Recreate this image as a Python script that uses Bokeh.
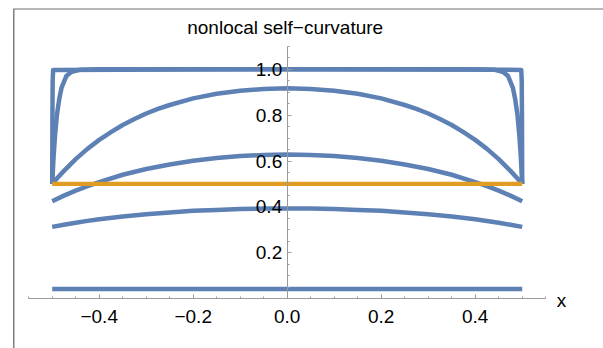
from bokeh.plotting import figure
from bokeh.models import Range1d, FixedTicker, Span, Label, CustomJSTickFormatter
from bokeh.embed import file_html
from bokeh.resources import INLINE

# ---- data ----
title_text = "nonlocal self\u2212curvature"
x_label = "x"

# box-like curve (very short boundary layer)
x1 = [-0.5, -0.4995, -0.499, -0.498, 0.0, 0.498, 0.499, 0.4995, 0.5]
y1 = [0.5, 0.80, 0.95, 0.997, 1.0, 0.997, 0.95, 0.80, 0.5]

# sharp boundary-layer curve
x2 = [-0.5, -0.497, -0.494, -0.49, -0.485, -0.48, -0.47, -0.46, -0.44, -0.4, 0.0,
      0.4, 0.44, 0.46, 0.47, 0.48, 0.485, 0.49, 0.494, 0.497, 0.5]
y2 = [0.5, 0.62, 0.71, 0.80, 0.87, 0.92, 0.97, 0.987, 0.998, 1.0, 1.0,
      1.0, 0.998, 0.987, 0.97, 0.92, 0.87, 0.80, 0.71, 0.62, 0.5]

# broad arch 0.5 -> 0.917
x3 = [-0.5, -0.49, -0.475, -0.45, -0.425, -0.4, -0.375, -0.35, -0.325, -0.3, -0.275, -0.25,
      -0.2, -0.15, -0.1, -0.05, 0.0,
      0.05, 0.1, 0.15, 0.2, 0.25, 0.275, 0.3, 0.325, 0.35, 0.375, 0.4, 0.425, 0.45, 0.475, 0.49, 0.5]
y3 = [0.50, 0.524, 0.557, 0.608, 0.653, 0.692, 0.726, 0.757, 0.783, 0.807, 0.827, 0.844,
      0.873, 0.893, 0.906, 0.914, 0.917,
      0.914, 0.906, 0.893, 0.873, 0.844, 0.827, 0.807, 0.783, 0.757, 0.726, 0.692, 0.653, 0.608, 0.557, 0.524, 0.50]

xa = [-0.5, -0.475, -0.45, -0.425, -0.4, -0.35, -0.3, -0.25, -0.2, -0.15, -0.1, -0.05, 0.0,
      0.05, 0.1, 0.15, 0.2, 0.25, 0.3, 0.35, 0.4, 0.425, 0.45, 0.475, 0.5]
y4 = [0.425, 0.449, 0.471, 0.490, 0.508, 0.540, 0.565, 0.585, 0.601, 0.613, 0.622, 0.626, 0.628,
      0.626, 0.622, 0.613, 0.601, 0.585, 0.565, 0.540, 0.508, 0.490, 0.471, 0.449, 0.425]
y5 = [0.313, 0.322, 0.331, 0.339, 0.346, 0.358, 0.368, 0.376, 0.383, 0.387, 0.391, 0.393, 0.393,
      0.393, 0.391, 0.387, 0.383, 0.376, 0.368, 0.358, 0.346, 0.339, 0.331, 0.322, 0.313]
y6 = [0.042] * len(xa)

x_ref = [-0.5, 0.5]
y_ref = [0.5, 0.5]

x_major = [-0.4, -0.2, 0.0, 0.2, 0.4]
x_minor = [-0.55, -0.5, -0.45, -0.4, -0.35, -0.3, -0.25, -0.2, -0.15, -0.1, -0.05, 0.0,
           0.05, 0.1, 0.15, 0.2, 0.25, 0.3, 0.35, 0.4, 0.45, 0.5, 0.55]
y_major = [0.2, 0.4, 0.6, 0.8, 1.0]
y_minor = [0.0, 0.05, 0.1, 0.15, 0.2, 0.25, 0.3, 0.35, 0.4, 0.45, 0.5, 0.55, 0.6, 0.65,
           0.7, 0.75, 0.8, 0.85, 0.9, 0.95, 1.0, 1.05, 1.1]

# ---- styling ----
BLUE = "#5E81B5"
ORANGE = "#E19C24"
AXIS = "#9a9a9a"
FONT = "Liberation Sans"
FS = "19px"

W, H = 603, 348
LEFT, TOP = 13, 8
X0PX, XSCALE = 286.7, 470.0
Y0PX, YSCALE = 298.2, 229.5

x_start = (LEFT - X0PX) / XSCALE
x_end = (W - X0PX) / XSCALE
y_end = (Y0PX - TOP) / YSCALE
y_start = (Y0PX - H) / YSCALE

p = figure(width=W, height=H, output_backend="svg", toolbar_location=None,
           x_range=Range1d(x_start, x_end), y_range=Range1d(y_start, y_end),
           min_border_left=LEFT, min_border_top=TOP, min_border_right=0, min_border_bottom=0)
p.outline_line_color = None
p.grid.visible = False
p.background_fill_color = "white"
p.border_fill_color = "white"

fmt = CustomJSTickFormatter(code='return (tick < -1e-9 ? "\\u2212" : "") + Math.abs(tick).toFixed(1);')

for ax, major, minor, bounds in ((p.xaxis[0], x_major, x_minor, (-0.55, 0.55)),
                                 (p.yaxis[0], y_major, y_minor, (0.0, 1.1))):
    ax.fixed_location = 0
    ax.ticker = FixedTicker(ticks=major, minor_ticks=minor)
    ax.formatter = fmt
    ax.bounds = bounds
    ax.axis_line_color = AXIS
    ax.axis_line_width = 1
    ax.major_tick_line_color = AXIS
    ax.minor_tick_line_color = AXIS
    ax.major_tick_in = 4
    ax.major_tick_out = 0
    ax.minor_tick_in = 2
    ax.minor_tick_out = 0
    ax.major_label_text_font = FONT
    ax.major_label_text_font_size = FS
    ax.major_label_text_color = "black"
p.xaxis.major_label_standoff = 11
p.yaxis.major_label_standoff = 5

# frame lines of the picture
p.add_layout(Span(location=x_start, dimension="height", line_color="black", line_width=1.5))
p.add_layout(Span(location=y_end, dimension="width", line_color="#707070", line_width=2))

for xs, ys in ((xa, y6), (xa, y5), (xa, y4), (x3, y3), (x2, y2), (x1, y1)):
    p.line(xs, ys, line_color=BLUE, line_width=4.5, line_join="round")
p.line(x_ref, y_ref, line_color=ORANGE, line_width=4.3)

p.add_layout(Label(x=0, y=(Y0PX - 26.5) / YSCALE, x_offset=-2, text=title_text,
                   text_align="center", text_baseline="alphabetic",
                   text_font=FONT, text_font_size=FS, text_color="black"))
p.add_layout(Label(x=0.55, y=0, x_offset=11, y_offset=-2, text=x_label,
                   text_align="left", text_baseline="alphabetic",
                   text_font=FONT, text_font_size=FS, text_color="black"))

open("out.html", "w").write(file_html(p, INLINE))
